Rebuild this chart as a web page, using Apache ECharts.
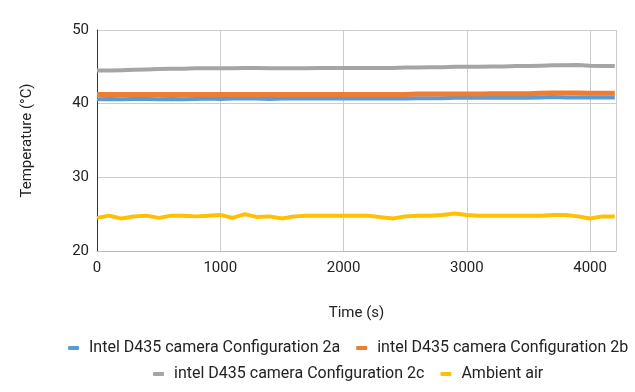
<!DOCTYPE html>
<html>
<head>
<meta charset="utf-8">
<script src="https://cdn.jsdelivr.net/npm/echarts@6/dist/echarts.min.js"></script>
<style>
  html, body { margin: 0; padding: 0; background: #fff; }
  #chart { width: 635px; height: 392px; }
</style>
</head>
<body>
<div id="chart"></div>
<script>
// time in seconds (sampled every 100 s)
const timeS = [0, 100, 200, 300, 400, 500, 600, 700, 800, 900,
  1000, 1100, 1200, 1300, 1400, 1500, 1600, 1700, 1800, 1900,
  2000, 2100, 2200, 2300, 2400, 2500, 2600, 2700, 2800, 2900,
  3000, 3100, 3200, 3300, 3400, 3500, 3600, 3700, 3800, 3900,
  4000, 4100, 4200];

const seriesNames = [
  'Intel D435 camera Configuration 2a',
  'intel D435 camera Configuration 2b',
  'intel D435 camera Configuration 2c',
  'Ambient air'
];

const config2a = [40.6, 40.65, 40.6, 40.65, 40.65, 40.6, 40.65, 40.6, 40.65, 40.7,
  40.65, 40.7, 40.7, 40.7, 40.65, 40.7, 40.7, 40.7, 40.7, 40.7,
  40.7, 40.7, 40.7, 40.7, 40.7, 40.7, 40.75, 40.75, 40.75, 40.8,
  40.8, 40.8, 40.8, 40.8, 40.8, 40.8, 40.85, 40.9, 40.85, 40.85,
  40.85, 40.85, 40.85];

const config2b = [41.25, 41.25, 41.25, 41.25, 41.25, 41.25, 41.25, 41.25, 41.25, 41.25,
  41.25, 41.25, 41.25, 41.25, 41.25, 41.25, 41.25, 41.25, 41.25, 41.25,
  41.25, 41.25, 41.25, 41.25, 41.25, 41.25, 41.3, 41.3, 41.3, 41.3,
  41.3, 41.3, 41.35, 41.35, 41.35, 41.35, 41.4, 41.45, 41.45, 41.45,
  41.4, 41.4, 41.4];

const config2c = [44.5, 44.5, 44.55, 44.6, 44.65, 44.7, 44.75, 44.75, 44.8, 44.8,
  44.8, 44.8, 44.85, 44.85, 44.8, 44.8, 44.8, 44.8, 44.85, 44.85,
  44.85, 44.85, 44.85, 44.85, 44.85, 44.9, 44.9, 44.95, 44.95, 45.0,
  45.0, 45.0, 45.05, 45.05, 45.1, 45.1, 45.15, 45.2, 45.2, 45.25,
  45.15, 45.1, 45.1];

const ambient = [24.5, 24.8, 24.4, 24.7, 24.8, 24.5, 24.8, 24.8, 24.7, 24.8,
  24.9, 24.5, 25.0, 24.6, 24.7, 24.4, 24.7, 24.8, 24.8, 24.8,
  24.8, 24.8, 24.8, 24.6, 24.4, 24.7, 24.8, 24.8, 24.9, 25.1,
  24.9, 24.8, 24.8, 24.8, 24.8, 24.8, 24.8, 24.9, 24.9, 24.7,
  24.4, 24.7, 24.7];

const colors = ['#5b9bd5', '#ed7d31', '#a5a5a5', '#ffc000'];
const allValues = [config2a, config2b, config2c, ambient];

const chart = echarts.init(document.getElementById('chart'));

const legendBase = {
  icon: 'roundRect',
  itemWidth: 11,
  itemHeight: 4,
  itemGap: 16,
  textStyle: { fontFamily: 'Roboto', fontSize: 16, color: '#222', padding: [0, 0, 0, 5] }
};

const option = {
  animation: false,
  color: colors,
  textStyle: { fontFamily: 'Roboto' },
  grid: { left: 97, right: 19, top: 30, bottom: 141 },
  legend: [
    Object.assign({}, legendBase, { data: seriesNames.slice(0, 2), top: 335, left: 63 }),
    Object.assign({}, legendBase, { data: seriesNames.slice(2), top: 361, left: 148 })
  ],
  xAxis: {
    type: 'value',
    min: 0,
    max: 4210,
    interval: 1000,
    name: 'Time (s)',
    nameLocation: 'middle',
    nameGap: 55,
    nameTextStyle: { fontSize: 15, color: '#222' },
    axisLine: { show: true, lineStyle: { color: '#bbb' } },
    axisTick: { show: false },
    axisLabel: { fontSize: 15, color: '#222', margin: 10, showMaxLabel: false, formatter: v => String(v) },
    splitLine: { show: true, lineStyle: { color: '#ccc' } }
  },
  yAxis: {
    type: 'value',
    min: 20,
    max: 50,
    interval: 10,
    name: 'Temperature (°C)',
    nameLocation: 'middle',
    nameGap: 62,
    nameTextStyle: { fontSize: 15, color: '#222' },
    axisLine: { show: true, lineStyle: { color: '#333' } },
    axisTick: { show: false },
    axisLabel: { fontSize: 15, color: '#222', margin: 8 },
    splitLine: { show: true, lineStyle: { color: '#ccc' } }
  },
  series: seriesNames.map((name, i) => ({
    name: name,
    type: 'line',
    showSymbol: false,
    lineStyle: { width: i === 1 ? 5 : 4, color: colors[i] },
    itemStyle: { color: colors[i] },
    data: timeS.map((t, j) => [t, allValues[i][j]])
  }))
};

chart.setOption(option);
</script>
</body>
</html>
